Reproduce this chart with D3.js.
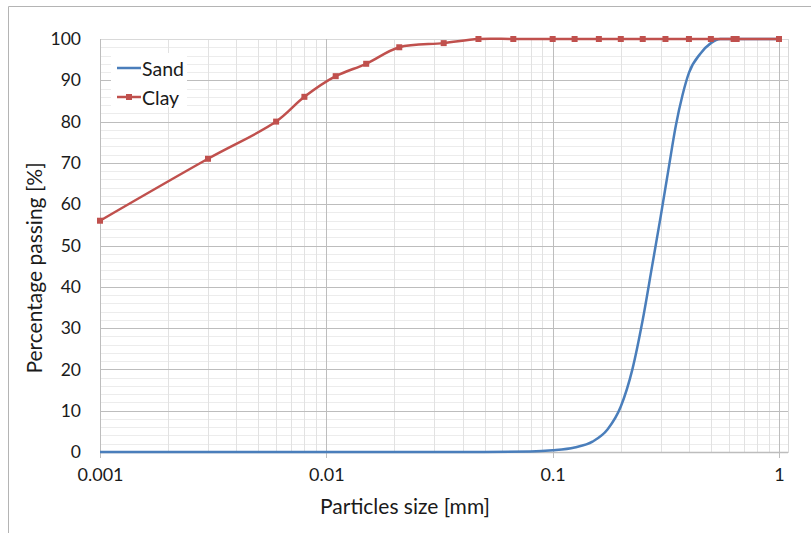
<!DOCTYPE html>
<html>
<head>
<meta charset="utf-8">
<script src="https://cdn.jsdelivr.net/npm/d3@7/dist/d3.min.js"></script>
<style>
  html, body { margin: 0; padding: 0; background: #fff; }
  svg { display: block; }
  text { font-family: Lato, "Open Sans", sans-serif; fill: #1a1a1a; }
</style>
</head>
<body>
<svg id="chart" width="811" height="533"></svg>
<script>
// Grain size distribution data (particle size in mm, percentage passing)
const sandSize    = [0.001, 0.01, 0.05, 0.08, 0.1, 0.125, 0.15, 0.175, 0.2, 0.225, 0.25, 0.275, 0.3, 0.325, 0.35, 0.375, 0.4, 0.45, 0.5, 0.55, 1];
const sandPassing = [0, 0, 0, 0.1, 0.4, 1.1, 2.5, 5.5, 11, 20, 32, 45, 57, 68.5, 79, 86.5, 91.8, 96.5, 99, 100, 100];

const claySize    = [0.001, 0.003, 0.006, 0.008, 0.011, 0.015, 0.021, 0.033, 0.047, 0.067, 0.1, 0.125, 0.16, 0.2, 0.25, 0.315, 0.4, 0.5, 0.63, 0.65, 1];
const clayPassing = [56, 71, 80, 86, 91, 94, 98, 99, 100, 100, 100, 100, 100, 100, 100, 100, 100, 100, 100, 100, 100];

const xTickValues = [0.001, 0.01, 0.1, 1];
const xTickLabels = ["0.001", "0.01", "0.1", "1"];
const yTickValues = [0, 10, 20, 30, 40, 50, 60, 70, 80, 90, 100];

const seriesNames = ["Sand", "Clay"];
const seriesColors = ["#4a7ebb", "#c0504d"];

const svg = d3.select("#chart");
const W = 811, H = 533;

// Plot geometry
const pLeft = 100, pTop = 39, pBottom = 452, pRight = 788;
const x = d3.scaleLog().domain([0.001, 1]).range([pLeft, 779]);
const y = d3.scaleLinear().domain([0, 100]).range([pBottom, pTop]);

// Chart frame (top and left edges)
svg.append("path")
  .attr("d", `M8.5,${H} L8.5,6.5 L${W},6.5`)
  .attr("fill", "none").attr("stroke", "#b4b4b4").attr("stroke-width", 1);

const grid = svg.append("g");

// Minor horizontal grid every 2 %
d3.range(2, 100, 2).filter(v => v % 10 !== 0).forEach(v => {
  grid.append("line")
    .attr("x1", pLeft).attr("x2", pRight)
    .attr("y1", Math.round(y(v)) + 0.5).attr("y2", Math.round(y(v)) + 0.5)
    .attr("stroke", "#ececec").attr("stroke-width", 1);
});

// Minor vertical grid at 2..9 of each decade
const minorX = [];
[0.001, 0.01, 0.1].forEach(d => { for (let k = 2; k <= 9; k++) minorX.push(d * k); });
minorX.filter(v => x(v) <= pRight).forEach(v => {
  grid.append("line")
    .attr("x1", Math.round(x(v)) + 0.5).attr("x2", Math.round(x(v)) + 0.5)
    .attr("y1", pTop).attr("y2", pBottom)
    .attr("stroke", "#e2e2e2").attr("stroke-width", 1);
});

// Major horizontal grid every 10 %
yTickValues.filter(v => v > 0).forEach(v => {
  grid.append("line")
    .attr("x1", pLeft).attr("x2", pRight)
    .attr("y1", Math.round(y(v)) + 0.5).attr("y2", Math.round(y(v)) + 0.5)
    .attr("stroke", "#bdbdbd").attr("stroke-width", 1);
});

// Plot-area border
grid.append("rect")
  .attr("x", pLeft + 0.5).attr("y", pTop + 0.5)
  .attr("width", pRight - pLeft).attr("height", pBottom - pTop)
  .attr("fill", "none").attr("stroke", "#d9d9d9");

// Major vertical grid at each decade, extending into outside tick marks
xTickValues.forEach(v => {
  grid.append("line")
    .attr("x1", Math.round(x(v)) + 0.5).attr("x2", Math.round(x(v)) + 0.5)
    .attr("y1", pTop).attr("y2", pBottom + 6)
    .attr("stroke", "#bdbdbd").attr("stroke-width", 1);
});

// Horizontal axis line
grid.append("line")
  .attr("x1", pLeft).attr("x2", pRight)
  .attr("y1", pBottom + 0.5).attr("y2", pBottom + 0.5)
  .attr("stroke", "#bdbdbd").attr("stroke-width", 1.5);

// Axis tick labels via d3 axes (lines hidden, tick text styled)
const yAxis = svg.append("g")
  .attr("transform", `translate(${pLeft},0)`)
  .call(d3.axisLeft(y).tickValues(yTickValues).tickSize(0).tickPadding(19));
yAxis.select(".domain").remove();
yAxis.selectAll("text")
  .style("font-family", "Lato, 'Open Sans', sans-serif")
  .style("font-size", "17.5px").attr("fill", "#1a1a1a");

const xAxis = svg.append("g")
  .attr("transform", `translate(0,${pBottom})`)
  .call(d3.axisBottom(x).tickValues(xTickValues).tickFormat((d, i) => xTickLabels[i]).tickSize(0).tickPadding(16));
xAxis.select(".domain").remove();
xAxis.selectAll("text")
  .style("font-family", "Lato, 'Open Sans', sans-serif")
  .style("font-size", "18px").attr("fill", "#1a1a1a");

// Axis titles
svg.append("text")
  .attr("x", 405).attr("y", 505)
  .attr("text-anchor", "middle").attr("dominant-baseline", "central")
  .style("font-size", "21px")
  .text("Particles size [mm]");

svg.append("text")
  .attr("transform", "translate(33,268) rotate(-90)")
  .attr("text-anchor", "middle").attr("dominant-baseline", "central")
  .style("font-size", "21px")
  .text("Percentage passing [%]");

// Series
const sand = sandSize.map((s, i) => ({ s, p: sandPassing[i] }));
const clay = claySize.map((s, i) => ({ s, p: clayPassing[i] }));

const sandLine = d3.line().x(d => x(d.s)).y(d => y(d.p)).curve(d3.curveMonotoneX);
const clayLine = d3.line().x(d => x(d.s)).y(d => y(d.p)).curve(d3.curveCatmullRom.alpha(0.5));

svg.append("path").datum(sand)
  .attr("d", sandLine).attr("fill", "none")
  .attr("stroke", seriesColors[0]).attr("stroke-width", 2.5);

svg.append("path").datum(clay)
  .attr("d", clayLine).attr("fill", "none")
  .attr("stroke", seriesColors[1]).attr("stroke-width", 2.5);

svg.append("g").selectAll("rect").data(clay).join("rect")
  .attr("x", d => x(d.s) - 3).attr("y", d => y(d.p) - 3)
  .attr("width", 6).attr("height", 6)
  .attr("fill", seriesColors[1]);

// Legend
const legend = svg.append("g");
legend.append("rect")
  .attr("x", 111).attr("y", 53).attr("width", 76).attr("height", 54)
  .attr("fill", "#fff");
seriesNames.forEach((name, i) => {
  const ly = 68 + i * 29;
  legend.append("line")
    .attr("x1", 117).attr("x2", 141).attr("y1", ly).attr("y2", ly)
    .attr("stroke", seriesColors[i]).attr("stroke-width", 2.5);
  if (i === 1) {
    legend.append("rect")
      .attr("x", 126).attr("y", ly - 3).attr("width", 6).attr("height", 6)
      .attr("fill", seriesColors[i]);
  }
  legend.append("text")
    .attr("x", 142).attr("y", ly)
    .attr("dominant-baseline", "central")
    .style("font-size", "19.5px")
    .text(name);
});
</script>
</body>
</html>
